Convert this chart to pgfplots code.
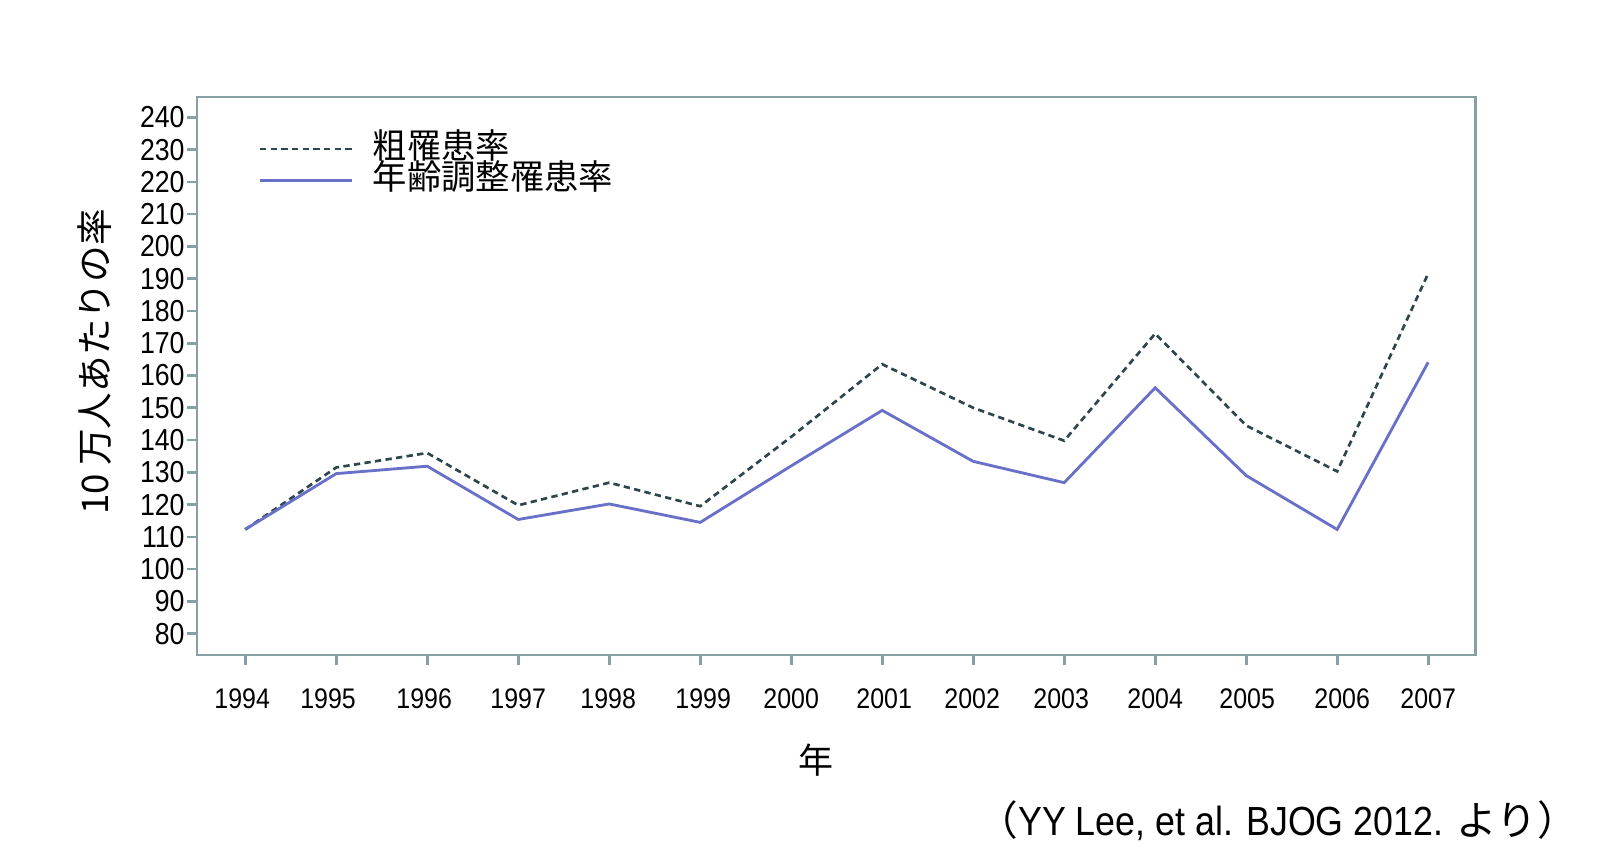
\documentclass[border=0pt]{standalone}
\usepackage{fontspec}
\setmainfont{Liberation Sans}
\newfontfamily\cjk{Noto Sans CJK JP}
\newfontfamily\numfont[FakeStretch=0.88]{Liberation Sans}
\usepackage{pgfplots}
\pgfplotsset{compat=1.18}
\definecolor{axc}{RGB}{135,160,165}
\definecolor{crude}{RGB}{45,70,75}
\definecolor{adj}{RGB}{105,112,200}
\begin{document}
\begin{tikzpicture}
\path[use as bounding box] (0,0) rectangle (480pt,258pt);
\begin{axis}[
  at={(59.1pt,61.5pt)}, anchor=south west,
  scale only axis, width=383.55pt, height=167.4pt,
  xmin=1993.47, xmax=2007.52, ymin=73.4, ymax=246.3,
  xtick={1994,1995,...,2007}, ytick={80,90,...,240},
  xticklabels={\hspace*{-1.8pt}1994,\hspace*{-4.9pt}1995,\hspace*{-1.8pt}1996,1997,\hspace*{-0.6pt}1998,\hspace*{1.8pt}1999,2000,\hspace*{1.2pt}2001,\hspace*{-0.6pt}2002,\hspace*{-1.8pt}2003,2004,\hspace*{0.6pt}2005,\hspace*{3pt}2006,2007},
  /pgf/number format/assume math mode=true,
  /pgf/number format/1000 sep={},
  axis line style={axc, line width=0.8pt},
  every tick/.style={axc, line width=0.8pt},
  tick align=outside, major tick length=3pt,
  tick pos=left,
  ticklabel style={text=black},
  xticklabel style={yshift=-3.5pt, font=\numfont\fontsize{8.5}{10}\selectfont},
  yticklabel style={xshift=2.8pt, font=\numfont\fontsize{9.1}{10}\selectfont},
  clip=false,
  ylabel={10 万人あたりの率},
  every axis y label/.style={at={(rel axis cs:0,0.525)}, xshift=-30.6pt, rotate=90, anchor=center, font=\cjk\fontsize{11}{12}\selectfont},
  xlabel={年},
  every axis x label/.style={at={(rel axis cs:0.484,0)}, yshift=-31.5pt, anchor=center, font=\cjk\fontsize{10.5}{12}\selectfont},
  legend image code/.code={\draw[#1] (0pt,0pt) -- (27.5pt,0pt);},
  legend style={at={(rel axis cs:0,1)}, anchor=north west, xshift=18.3pt, yshift=-10.6pt,
    draw=none, fill=none, inner sep=0pt, row sep=0pt, column sep=5.4pt,
    font=\cjk\fontsize{10.3}{11}\selectfont,
    nodes={text height=7pt, text depth=1.5pt, inner sep=0.5pt}},
  legend cell align=left,
]
\addplot[crude, line width=0.8pt, dash pattern=on 1.9pt off 1.3pt] coordinates {
(1994,112.3) (1995,131.5) (1996,136.0) (1997,119.8) (1998,126.8) (1999,119.5) (2000,141.0)
(2001,163.5) (2002,150.0) (2003,139.8) (2004,173.0) (2005,144.5) (2006,130.3) (2007,191.6)};
\addplot[adj, line width=0.85pt] coordinates {
(1994,112.3) (1995,129.6) (1996,131.9) (1997,115.4) (1998,120.2) (1999,114.5) (2000,132.0)
(2001,149.2) (2002,133.4) (2003,126.8) (2004,156.2) (2005,129.0) (2006,112.3) (2007,164.1)};
\legend{粗罹患率, 年齢調整罹患率}
\end{axis}
\node[anchor=east, inner sep=0pt, font=\fontsize{12.2}{13}\selectfont] at (473.5pt,11.7pt) {{\cjk （}{\numfont YY Lee, et al. BJOG 2012. }{\cjk より）}};
\end{tikzpicture}
\end{document}
